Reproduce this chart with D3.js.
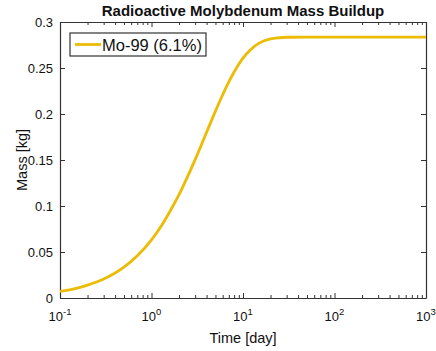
<!DOCTYPE html>
<html>
<head>
<meta charset="utf-8">
<script src="https://cdn.jsdelivr.net/npm/d3@7"></script>
<style>
  body { margin: 0; background: #fff; }
  text { font-family: "Liberation Sans", Arial, sans-serif; fill: #111; }
</style>
</head>
<body>
<div id="chart"></div>
<script>
// values
var times = [0.1, 0.15, 0.2, 0.3, 0.4, 0.5, 0.7, 1, 1.3, 1.6, 2, 2.5, 3, 4, 5, 6, 7, 8, 10, 12, 15, 20, 25, 30, 50, 100, 300, 1000];
var moMass = [0.0071, 0.0105, 0.0140, 0.0206, 0.0272, 0.0336, 0.0459, 0.0632, 0.0794, 0.0946, 0.1123, 0.1327, 0.1504, 0.1801, 0.2031, 0.2209, 0.2349, 0.2456, 0.2607, 0.2696, 0.2770, 0.2817, 0.2829, 0.2834, 0.2835, 0.2835, 0.2835, 0.2835];
var yTicks = [0, 0.05, 0.1, 0.15, 0.2, 0.25, 0.3];
var xTicks = [0.1, 1, 10, 100, 1000];
var xTickExp = ["-1", "0", "1", "2", "3"];
var seriesName = "Mo-99 (6.1%)";

var width = 436, height = 351;
var margin = { top: 22, right: 10, bottom: 53, left: 60 };
var chart_width = width - margin.left - margin.right;
var chart_height = height - margin.top - margin.bottom;
var lineColor = "#ecbb05";

var svg = d3.select("#chart").append("svg")
    .attr("width", width)
    .attr("height", height);

var g = svg.append("g")
    .attr("transform", `translate(${margin.left}, ${margin.top})`);

var xScale = d3.scaleLog().domain([0.1, 1000]).range([0, chart_width]);
var yScale = d3.scaleLinear().domain([0, 0.3]).range([chart_height, 0]);

// minor ticks for log axis
var minor = [];
for (var e = -1; e < 3; e++) {
    for (var k = 2; k <= 9; k++) minor.push(k * Math.pow(10, e));
}

var tickColor = "#333";
// bottom axis
g.append("g").attr("transform", `translate(0, ${chart_height})`)
    .call(d3.axisBottom(xScale).tickValues(xTicks).tickSizeInner(-5).tickSizeOuter(0).tickFormat(""));
g.append("g").attr("transform", `translate(0, ${chart_height})`)
    .call(d3.axisBottom(xScale).tickValues(minor).tickSizeInner(-3).tickSizeOuter(0).tickFormat(""))
    .call(s => s.select(".domain").remove());
// top axis
g.append("g")
    .call(d3.axisTop(xScale).tickValues(xTicks).tickSizeInner(-5).tickSizeOuter(0).tickFormat(""));
g.append("g")
    .call(d3.axisTop(xScale).tickValues(minor).tickSizeInner(-3).tickSizeOuter(0).tickFormat(""))
    .call(s => s.select(".domain").remove());
// left axis
var left = g.append("g")
    .call(d3.axisLeft(yScale).tickValues(yTicks).tickSizeInner(-5).tickSizeOuter(0)
        .tickFormat(d => d === 0 ? "0" : String(d)));
left.selectAll("text").attr("x", -7).style("font-size", "13px");
// right axis
g.append("g").attr("transform", `translate(${chart_width}, 0)`)
    .call(d3.axisRight(yScale).tickValues(yTicks).tickSizeInner(-5).tickSizeOuter(0).tickFormat(""));

g.selectAll(".domain").attr("stroke", tickColor).attr("stroke-width", 1.2);
g.selectAll(".tick line").attr("stroke", tickColor);

// x tick labels with superscripts
var xl = g.append("g").selectAll("text")
    .data(xTicks)
    .enter()
    .append("text")
    .attr("x", d => xScale(d))
    .attr("y", chart_height + 23)
    .attr("text-anchor", "middle")
    .style("font-size", "13px");
xl.append("tspan").text("10");
xl.append("tspan")
    .attr("dy", -6)
    .style("font-size", "9.5px")
    .text((d, i) => xTickExp[i]);

// the curve
var line = d3.line()
    .x(d => xScale(d[0]))
    .y(d => yScale(d[1]))
    .curve(d3.curveMonotoneX);

g.append("path")
    .datum(times.map((t, i) => [t, moMass[i]]))
    .attr("d", line)
    .attr("fill", "none")
    .attr("stroke", lineColor)
    .attr("stroke-width", 2.8);

// legend
var lg = g.append("g").attr("transform", "translate(10, 11)");
lg.append("rect")
    .attr("width", 136)
    .attr("height", 23)
    .attr("fill", "#fff")
    .attr("stroke", "#333")
    .attr("stroke-width", 1.2);
lg.append("line")
    .attr("x1", 5).attr("x2", 31)
    .attr("y1", 11.5).attr("y2", 11.5)
    .attr("stroke", lineColor)
    .attr("stroke-width", 2.8);
lg.append("text")
    .attr("x", 32)
    .attr("y", 17.5)
    .style("font-size", "16.5px")
    .text(seriesName);

// title & axis labels
svg.append("text")
    .attr("x", margin.left + chart_width / 2)
    .attr("y", 16)
    .attr("text-anchor", "middle")
    .style("font-size", "15px")
    .style("font-weight", "bold")
    .text("Radioactive Molybdenum Mass Buildup");

svg.append("text")
    .attr("x", margin.left + chart_width / 2)
    .attr("y", 343)
    .attr("text-anchor", "middle")
    .style("font-size", "14.5px")
    .text("Time [day]");

svg.append("text")
    .attr("transform", "rotate(-90)")
    .attr("x", -(margin.top + chart_height / 2))
    .attr("y", 27)
    .attr("text-anchor", "middle")
    .style("font-size", "14.5px")
    .text("Mass [kg]");
</script>
</body>
</html>
